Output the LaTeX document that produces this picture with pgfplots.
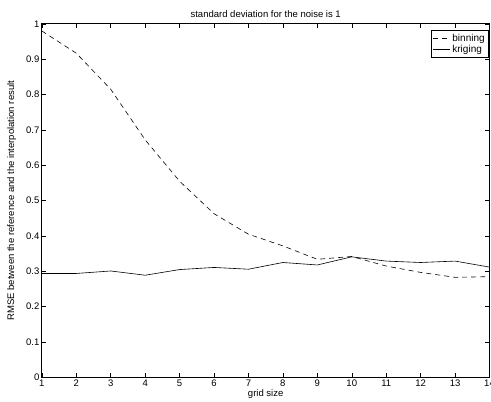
\documentclass[border=0pt]{standalone}
\usepackage{fontspec}
\setmainfont{Liberation Sans}
\usepackage{pgfplots}
\pgfplotsset{compat=1.18}

\begin{document}
\begin{tikzpicture}
\begin{axis}[
  scale only axis,
  width=447pt, height=353pt,
  xmin=1, xmax=14, ymin=0, ymax=1,
  xtick={1,...,14},
  ytick={0,0.1,...,1},
  yticklabels={0,0.1,0.2,0.3,0.4,0.5,0.6,0.7,0.8,0.9,1},
  tick align=inside,
  major tick length=4pt,
  axis line style={line width=0.9pt},
  tick style={line width=0.5pt,black},
  ticklabel style={font=\fontsize{9.5}{10}\selectfont},
  yticklabel style={xshift=1pt},
  xticklabel style={yshift=1pt},
  /pgf/number format/assume math mode=true,
  title={standard deviation for the noise is 1},
  title style={font=\fontsize{9.5}{10}\selectfont,yshift=-3pt},
  xlabel={grid size},
  ylabel={RMSE between the reference and the interpolation result},
  label style={font=\fontsize{9.5}{10}\selectfont},
  xlabel style={yshift=4pt},
  ylabel style={yshift=3pt},
  legend style={at={(0.998,0.983)},anchor=north east,draw=black,line width=0.8pt,
    font=\fontsize{10}{10}\selectfont,inner sep=1.5pt,row sep=-1.5pt},
  legend cell align=left,
]
\addplot[black,dash pattern=on 5pt off 4pt,line width=0.6pt] coordinates {
  (1,0.980) (2,0.917) (3,0.815) (4,0.672) (5,0.555) (6,0.463) (7,0.405)
  (8,0.372) (9,0.334) (10,0.342) (11,0.315) (12,0.297) (13,0.283) (14,0.285)};
\addplot[black,solid,line width=0.6pt] coordinates {
  (1,0.294) (2,0.294) (3,0.301) (4,0.289) (5,0.305) (6,0.311) (7,0.306)
  (8,0.325) (9,0.318) (10,0.341) (11,0.329) (12,0.325) (13,0.329) (14,0.312)};
\legend{binning,kriging}
\end{axis}
\pgfresetboundingbox
\path ([xshift=-4pt]current axis.outer south west) rectangle ([xshift=1.5pt,yshift=7pt]current axis.north east |- current axis.outer north east);
\end{tikzpicture}
\end{document}
